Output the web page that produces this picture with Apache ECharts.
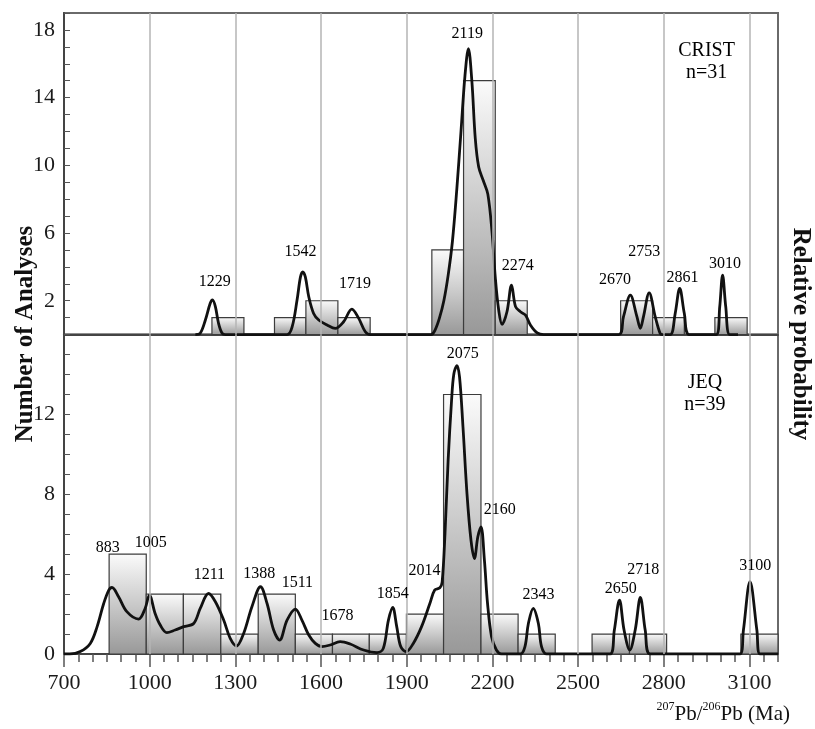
<!DOCTYPE html>
<html>
<head>
<meta charset="utf-8">
<script src="https://cdn.jsdelivr.net/npm/echarts@6/dist/echarts.min.js"></script>
<style>
html,body{margin:0;padding:0;background:#fff;}
#main{width:815px;height:729px;}
</style>
</head>
<body>
<div id="main"></div>
<script>
var SERIF = '"Liberation Serif", "Times New Roman", serif';

// x tick labels and vertical grid lines (Ma)
var xTickLabels = [700, 1000, 1300, 1600, 1900, 2200, 2500, 2800, 3100];
var gridLinesX = [1000, 1300, 1600, 1900, 2200, 2500, 2800, 3100];

// histogram bins: [from, to, count]
var cristBins = [
    [1218, 1330, 1], [1437, 1547, 1], [1547, 1659, 2], [1659, 1772, 1],
    [1988, 2099, 5], [2099, 2210, 15], [2210, 2322, 2],
    [2649, 2761, 2], [2761, 2872, 1], [2979, 3092, 1]
];
var jeqBins = [
    [858, 988, 5], [988, 1118, 3], [1118, 1249, 3], [1249, 1380, 1],
    [1380, 1510, 3], [1510, 1640, 1], [1640, 1769, 1], [1769, 1899, 1],
    [1899, 2029, 2], [2029, 2160, 13], [2160, 2290, 2], [2290, 2420, 1],
    [2549, 2680, 1], [2680, 2810, 1], [3070, 3200, 1]
];

// probability curves, in left-axis units
var cristCurve = [
    [1160, 0], [1177, 0.08], [1195, 0.86], [1212, 1.85], [1220, 2.05], [1230, 1.65], [1241, 0.67], [1253, 0.1], [1265, 0],
    [1481, 0], [1499, 0.47], [1516, 2.04], [1528, 3.41], [1536, 3.71], [1545, 3.41], [1557, 2.24], [1574, 1.25], [1592, 0.86],
    [1621, 0.57], [1650, 0.37], [1679, 0.76], [1708, 1.51], [1732, 0.96], [1755, 0.17], [1773, 0],
    [1985, 0], [2000, 0.3], [2015, 1.0], [2030, 2.0], [2045, 3.5], [2060, 5.5], [2075, 8.5], [2090, 12.0], [2104, 15.3],
    [2116, 16.9], [2128, 15.0], [2140, 11.6], [2152, 9.9], [2168, 9.1], [2184, 8.3], [2199, 6.0], [2210, 3.4], [2222, 1.45],
    [2234, 0.6], [2251, 1.35], [2267, 2.92], [2281, 1.65], [2298, 1.35], [2316, 1.15], [2333, 0.57], [2357, 0.1], [2380, 0],
    [2642, 0], [2659, 1.06], [2683, 2.33], [2706, 1.06], [2718, 0.37], [2729, 1.06], [2749, 2.47], [2770, 1.06], [2787, 0.08], [2795, 0],
    [2823, 0], [2840, 1.25], [2856, 2.73], [2872, 1.25], [2890, 0],
    [2984, 0], [2996, 1.65], [3006, 3.51], [3017, 1.65], [3031, 0], [3060, 0]
];
var jeqCurve = [
    [700, 0], [720, 0], [757, 0.12], [792, 0.53], [816, 1.37], [839, 2.53], [857, 3.2], [868, 3.33], [891, 2.87], [920, 2.12],
    [961, 1.75], [984, 2.28], [999, 2.95], [1019, 2.03], [1037, 1.45], [1060, 1.07], [1089, 1.2], [1119, 1.37], [1154, 1.53],
    [1177, 2.28], [1206, 3.03], [1230, 2.62], [1259, 1.7], [1282, 0.78], [1304, 0.4], [1329, 1.03], [1358, 2.37], [1388, 3.37],
    [1411, 2.53], [1434, 1.2], [1455, 0.7], [1481, 1.7], [1510, 2.25], [1533, 1.7], [1557, 0.95], [1580, 0.53], [1603, 0.37],
    [1632, 0.45], [1667, 0.62], [1702, 0.5], [1749, 0.2], [1796, 0.07], [1818, 0.28], [1836, 1.7], [1851, 2.33], [1865, 1.37],
    [1879, 0.37], [1898, 0.12], [1923, 0.53], [1952, 1.37], [1981, 2.53], [1998, 3.2], [2016, 3.32], [2024, 3.6], [2034, 6.03],
    [2045, 9.7], [2057, 12.7], [2065, 14.03], [2076, 14.45], [2085, 13.87], [2097, 11.37], [2111, 8.03], [2125, 5.7],
    [2137, 4.78], [2149, 5.87], [2160, 6.37], [2172, 4.7], [2183, 2.53], [2197, 0.87], [2214, 0.2], [2232, 0],
    [2298, 0], [2314, 0.37], [2326, 1.53], [2343, 2.28], [2361, 1.53], [2372, 0.37], [2390, 0],
    [2612, 0], [2627, 1.2], [2645, 2.7], [2661, 1.2], [2681, 0.2], [2700, 1.2], [2718, 2.83], [2735, 1.2], [2752, 0],
    [3067, 0], [3079, 1.2], [3102, 3.62], [3126, 1.2], [3137, 0], [3200, 0]
];

// peak labels: [x, y, text]
var cristPeaks = [
    [1228, 3.12, '1229'], [1528, 4.89, '1542'], [1719, 3.02, '1719'], [2112, 17.77, '2119'],
    [2289, 4.06, '2274'], [2629, 3.26, '2670'], [2732, 4.89, '2753'], [2866, 3.36, '2861'], [3014, 4.2, '3010']
];
var jeqPeaks = [
    [853, 5.33, '883'], [1004, 5.57, '1005'], [1209, 3.98, '1211'], [1384, 4.03, '1388'], [1517, 3.57, '1511'],
    [1658, 1.9, '1678'], [1851, 3.03, '1854'], [1962, 4.17, '2014'], [2096, 15.03, '2075'], [2226, 7.23, '2160'],
    [2361, 2.95, '2343'], [2649, 3.28, '2650'], [2728, 4.23, '2718'], [3120, 4.42, '3100']
];
var cristTitle = [2950, 16.1, 'CRIST\nn=31'];
var jeqTitle = [2944, 13.05, 'JEQ\nn=39'];

var chart = echarts.init(document.getElementById('main'));

var barFill = new echarts.graphic.LinearGradient(0, 0, 0, 1, [
    {offset: 0, color: '#fbfbfb'},
    {offset: 1, color: '#989898'}
]);

function histSeries(bins, idx) {
    return {
        type: 'custom',
        xAxisIndex: idx, yAxisIndex: idx,
        z: 2,
        data: bins,
        renderItem: function(params, api) {
            var p0 = api.coord([api.value(0), api.value(2)]);
            var p1 = api.coord([api.value(1), 0]);
            return {
                type: 'rect',
                shape: {x: p0[0], y: p0[1], width: p1[0] - p0[0], height: p1[1] - p0[1]},
                style: {fill: barFill, stroke: '#3c3c3c', lineWidth: 1.2}
            };
        }
    };
}

function gridSeries(idx) {
    return {
        type: 'line',
        xAxisIndex: idx, yAxisIndex: idx,
        z: 3,
        data: [],
        markLine: {
            silent: true,
            symbol: ['none', 'none'],
            label: {show: false},
            lineStyle: {color: '#b4b4b4', width: 1.5, type: 'solid'},
            data: gridLinesX.map(function(v) { return {xAxis: v}; })
        }
    };
}

function curveSeries(pts, idx) {
    return {
        type: 'line',
        xAxisIndex: idx, yAxisIndex: idx,
        z: 4,
        data: pts,
        smooth: 0.35,
        showSymbol: false,
        lineStyle: {color: '#111', width: 2.8}
    };
}

function labelSeries(peaks, title, idx) {
    var data = peaks.map(function(p) {
        return {value: [p[0], p[1]], name: p[2]};
    });
    data.push({value: [title[0], title[1]], name: title[2],
        label: {fontSize: 20, lineHeight: 22}});
    return {
        type: 'scatter',
        xAxisIndex: idx, yAxisIndex: idx,
        z: 5,
        symbolSize: 1,
        itemStyle: {color: 'rgba(255,255,255,0)', opacity: 1},
        data: data,
        label: {
            show: true, position: 'inside', formatter: '{b}',
            fontFamily: SERIF, fontSize: 16, color: '#000', opacity: 1
        }
    };
}

var yLabelStyle = {fontFamily: SERIF, fontSize: 22, color: '#1a1a1a', margin: 9};

var option = {
    animation: false,
    backgroundColor: '#fff',
    grid: [
        {left: 64, right: 37, top: 13, height: 321.6, show: true, borderColor: '#6a6a6a', borderWidth: 2},
        {left: 64, right: 37, top: 334.6, height: 319.4, show: true, borderColor: '#6a6a6a', borderWidth: 2}
    ],
    xAxis: [
        {gridIndex: 0, type: 'value', position: 'bottom', min: 700, max: 3200, interval: 50,
            axisLine: {lineStyle: {color: '#444', width: 2}}, axisTick: {show: false},
            axisLabel: {show: false}, splitLine: {show: false}},
        {gridIndex: 1, type: 'value', position: 'bottom', min: 700, max: 3200, interval: 50,
            axisLine: {lineStyle: {color: '#444', width: 2}},
            axisTick: {length: 8, lineStyle: {color: '#555', width: 1.5}},
            axisLabel: {show: false}, splitLine: {show: false}},
        {gridIndex: 1, type: 'value', position: 'bottom', offset: 0, min: 700, max: 3200,
            axisLine: {show: false},
            axisTick: {length: 13, customValues: xTickLabels, lineStyle: {color: '#555', width: 1.5}},
            axisLabel: {customValues: xTickLabels, formatter: function(v) { return String(v); },
                fontFamily: SERIF, fontSize: 22, color: '#1a1a1a', margin: 18},
            splitLine: {show: false}}
    ],
    yAxis: [
        {gridIndex: 0, type: 'value', min: 0, max: 19, interval: 1,
            axisLine: {show: true, lineStyle: {color: '#444', width: 2}},
            axisTick: {inside: true, length: 6, lineStyle: {color: '#555'}},
            axisLabel: Object.assign({formatter: function(v) { return v % 4 === 2 ? v : ''; }}, yLabelStyle),
            splitLine: {show: false}},
        {gridIndex: 1, type: 'value', min: 0, max: 16, interval: 1,
            axisLine: {show: true, lineStyle: {color: '#444', width: 2}},
            axisTick: {inside: true, length: 6, lineStyle: {color: '#555'}},
            axisLabel: Object.assign({formatter: function(v) { return (v % 4 === 0 && v < 16) ? v : ''; }}, yLabelStyle),
            splitLine: {show: false}}
    ],
    graphic: [
        {type: 'text', x: 26, y: 334, rotation: Math.PI / 2,
            style: {text: 'Number of Analyses', font: 'bold 25px ' + SERIF, fill: '#111', align: 'center', verticalAlign: 'middle'}},
        {type: 'text', x: 800, y: 334, rotation: -Math.PI / 2,
            style: {text: 'Relative probability', font: 'bold 25px ' + SERIF, fill: '#111', align: 'center', verticalAlign: 'middle'}},
        {type: 'text', x: 790, y: 713,
            style: {
                text: '{s|207}{t|Pb/}{s|206}{t|Pb (Ma)}',
                align: 'right', verticalAlign: 'middle',
                rich: {
                    t: {fontFamily: SERIF, fontSize: 21, fill: '#111', lineHeight: 24, verticalAlign: 'bottom'},
                    s: {fontFamily: SERIF, fontSize: 12, fill: '#111', lineHeight: 24, verticalAlign: 'top'}
                }
            }}
    ],
    series: [
        histSeries(cristBins, 0),
        gridSeries(0),
        curveSeries(cristCurve, 0),
        labelSeries(cristPeaks, cristTitle, 0),
        histSeries(jeqBins, 1),
        gridSeries(1),
        curveSeries(jeqCurve, 1),
        labelSeries(jeqPeaks, jeqTitle, 1)
    ]
};
chart.setOption(option);
</script>
</body>
</html>
